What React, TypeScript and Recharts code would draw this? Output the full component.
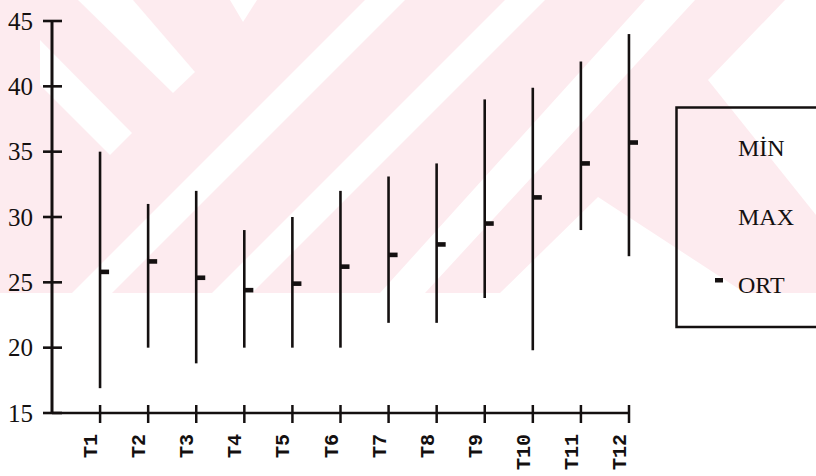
import React from 'react'
import { ComposedChart, Bar, Scatter, XAxis, YAxis, Legend } from 'recharts'

const categories = ['T1', 'T2', 'T3', 'T4', 'T5', 'T6', 'T7', 'T8', 'T9', 'T10', 'T11', 'T12']
const minValues = [16.9, 20, 18.8, 20, 20, 20, 21.9, 21.9, 23.8, 19.8, 29, 27]
const maxValues = [35, 31, 32, 29, 30, 32, 33.1, 34.1, 39, 39.9, 41.9, 44]
const ortValues = [25.8, 26.6, 25.35, 24.4, 24.9, 26.2, 27.1, 27.9, 29.5, 31.5, 34.1, 35.7]
const yTicks = [15, 20, 25, 30, 35, 40, 45]
const legendLabels = ['MİN', 'MAX', 'ORT']

const rows = categories.map((name, i) => ({
  name,
  pos: i + 1,
  min: minValues[i],
  max: maxValues[i],
  ort: ortValues[i],
}))
const positions = rows.map((r) => r.pos)

const INK = '#141010'
const PINK = '#fdebef'
const Y_AXIS_W = 52

// background watermark (pink diagonal pattern behind the plot)
const whiteShapes = [
  [[78, 0], [133, 0], [195, 72], [173, 93]],
  [[230, 0], [257, 0], [243, 22]],
  [[40, 40], [40, 85], [110, 155], [132, 133]],
  [[365, 0], [405, 0], [112, 293], [72, 293]],
  [[505, 0], [545, 0], [252, 293], [212, 293]],
  [[645, 0], [695, 0], [425, 293], [380, 293]],
  [[785, 0], [816, 0], [816, 215], [708, 80]],
  [[598, 197], [500, 293], [745, 293]],
]

function Watermark() {
  return (
    <svg width={816} height={476} style={{ position: 'absolute', left: 0, top: 0 }}>
      <rect x={0} y={0} width={816} height={293} fill={PINK} />
      {whiteShapes.map((pts, i) => (
        <polygon key={i} points={pts.map((p) => p.join(',')).join(' ')} fill="#fff" />
      ))}
    </svg>
  )
}

// tick crosses the axis line, label to the left
const YTick = (props: any) => {
  const { y, payload } = props
  const ax = Y_AXIS_W
  const ty = Number(y)
  return (
    <g>
      <rect x={ax - 9} y={ty - 1.3} width={19} height={2.6} fill={INK} />
      <text x={ax - 19} y={ty} textAnchor="end" dominantBaseline="central" fontFamily="'Liberation Serif', serif" fontSize={25} fill={INK}>
        {payload.value}
      </text>
    </g>
  )
}

const XTick = (props: any) => {
  const { x, y, payload } = props
  return (
    <g>
      <line x1={x} x2={x} y1={y - 8} y2={y + 10} stroke={INK} strokeWidth={2.5} />
      <text transform={`translate(${x - 3},${y + 21}) rotate(-90)`} textAnchor="end" fontFamily="'Liberation Mono', monospace" fontWeight="bold" fontSize={20} fill={INK}>
        {categories[payload.value - 1]}
      </text>
    </g>
  )
}

const RangeLine = (props: any) => {
  const { x, y, width, height } = props
  const cx = x + width / 2
  return <line x1={cx} x2={cx} y1={y} y2={y + height} stroke={INK} strokeWidth={2.6} />
}

const OrtMark = (props: any) => {
  const { cx, cy } = props
  return <rect x={cx} y={cy - 2.3} width={9} height={4.6} fill={INK} />
}

const LegendBox = () => (
  <svg width={150} height={226}>
    <polyline points="150,1.5 1.5,1.5 1.5,221 150,221" fill="none" stroke={INK} strokeWidth={2.5} />
    {legendLabels.map((label, i) => (
      <text key={label} x={63} y={50 + i * 68.5} fontFamily="'Liberation Serif', serif" fontSize={24} fill={INK}>
        {label}
      </text>
    ))}
    <rect x={40} y={172} width={8} height={4.5} fill={INK} />
  </svg>
)

export default function App() {
  return (
    <div style={{ position: 'absolute', left: 0, top: 0, width: 816, height: 476, background: '#fff', overflow: 'hidden' }}>
      <Watermark />
      <div style={{ position: 'absolute', left: 0, top: 0 }}>
        <ComposedChart width={816} height={476} data={rows} margin={{ top: 21, right: 187, bottom: 0, left: 0 }}>
          <XAxis
            type="number"
            dataKey="pos"
            domain={[0, 12]}
            ticks={positions}
            interval={0}
            height={63}
            tickSize={0}
            tickMargin={0}
            tickLine={false}
            tick={<XTick />}
            axisLine={{ stroke: INK, strokeWidth: 2.5 }}
          />
          <YAxis
            type="number"
            domain={[15, 45]}
            ticks={yTicks}
            interval={0}
            width={Y_AXIS_W}
            tickSize={0}
            tickMargin={0}
            tickLine={false}
            tick={<YTick />}
            axisLine={{ stroke: INK, strokeWidth: 3 }}
          />
          <Bar dataKey={(d: any) => [d.min, d.max]} name="MİN-MAX" barSize={4} shape={<RangeLine />} isAnimationActive={false} />
          <Scatter dataKey="ort" name="ORT" shape={<OrtMark />} isAnimationActive={false} />
          <Legend
            layout="vertical"
            align="center"
            verticalAlign="middle"
            content={<LegendBox />}
            wrapperStyle={{ position: 'absolute', left: 675, top: 106, width: 150, height: 226 }}
          />
        </ComposedChart>
      </div>
    </div>
  )
}
